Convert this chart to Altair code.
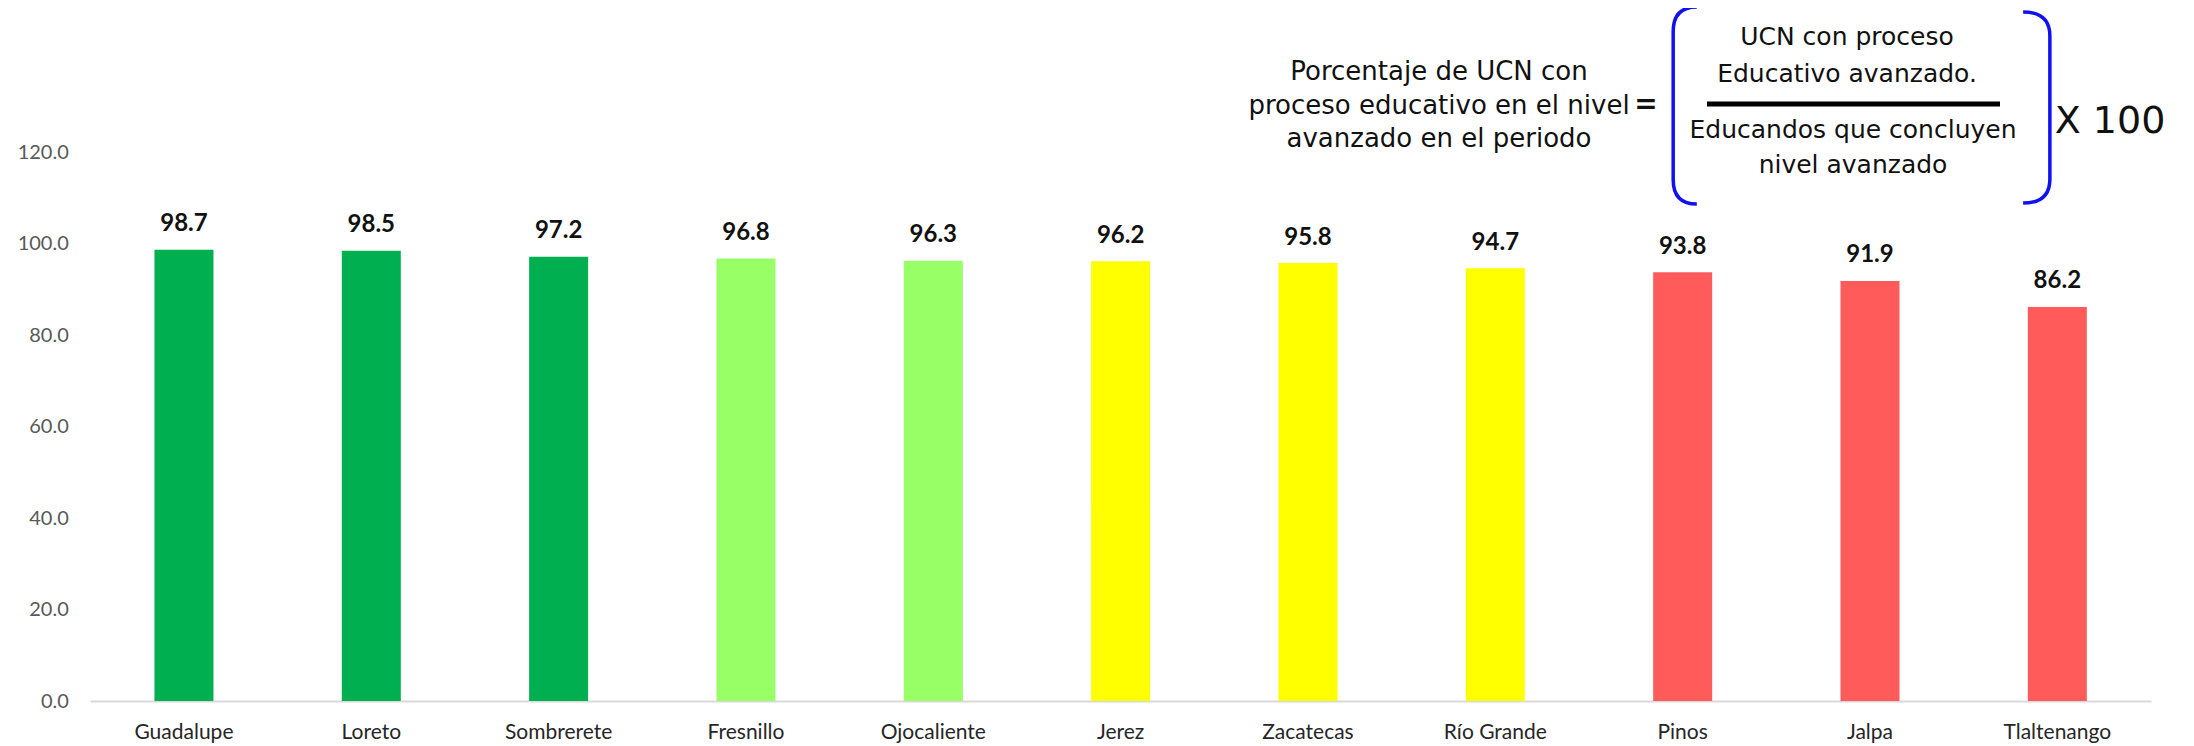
import altair as alt
import pandas as pd

categories = ["Guadalupe", "Loreto", "Sombrerete", "Fresnillo", "Ojocaliente", "Jerez",
              "Zacatecas", "Río Grande", "Pinos", "Jalpa", "Tlaltenango"]
values = [98.7, 98.5, 97.2, 96.8, 96.3, 96.2, 95.8, 94.7, 93.8, 91.9, 86.2]
bar_colors = ["#00B050", "#00B050", "#00B050", "#99FF66", "#99FF66", "#FFFF00",
              "#FFFF00", "#FFFF00", "#FF5B5B", "#FF5B5B", "#FF5B5B"]

formula_left = ["Porcentaje de UCN con", "proceso educativo en el nivel", "avanzado en el periodo"]
formula_equals = "="
formula_numerator = ["UCN con proceso", "Educativo avanzado."]
formula_denominator = ["Educandos que concluyen", "nivel avanzado"]
formula_multiplier = "X 100"

df = pd.DataFrame({"municipio": categories, "valor": values})
one = pd.DataFrame({"k": [0]})

W, H = 2060.7, 548.5
OX, OY = 90.3, 152.5  # plot origin on page


def px(x):
    return x - OX


def py(y):
    return y - OY


xenc = alt.X("municipio:N", sort=categories, title=None,
             scale=alt.Scale(paddingInner=0.685, paddingOuter=0.3425),
             axis=alt.Axis(labelAngle=0, labelFont="Lato", labelFontSize=21,
                           labelColor="#262626", labelPadding=20, ticks=False,
                           domainColor="#D9D9D9", domainWidth=2))
yenc = alt.Y("valor:Q", title=None,
             scale=alt.Scale(domain=[0, 120], nice=False),
             axis=alt.Axis(values=[0, 20, 40, 60, 80, 100, 120], format=".1f",
                           labelFont="Lato", labelFontSize=20, labelColor="#595959",
                           labelPadding=22, ticks=False, domain=False, grid=False))

bars = alt.Chart(df).mark_bar().encode(
    x=xenc, y=yenc,
    color=alt.Color("municipio:N", scale=alt.Scale(domain=categories, range=bar_colors),
                    legend=None),
)

labels = alt.Chart(df).mark_text(font="Lato", fontSize=24, fontWeight="bold",
                                 color="#111111", baseline="alphabetic", dy=-18.5).encode(
    x=alt.X("municipio:N", sort=categories), y="valor:Q",
    text=alt.Text("valor:Q", format=".1f"),
)

left_txt = alt.Chart(one).mark_text(text=formula_left, font="DejaVu Sans", fontSize=26,
                                    color="#111111", align="center", baseline="alphabetic",
                                    lineHeight=33.5).encode(
    x=alt.value(px(1439)), y=alt.value(py(80)))

eq_txt = alt.Chart(one).mark_text(text=formula_equals, font="DejaVu Sans", fontSize=28,
                                  fontWeight="bold", color="#111111", align="center",
                                  baseline="alphabetic").encode(
    x=alt.value(px(1646)), y=alt.value(py(113)))

num_txt = alt.Chart(one).mark_text(text=formula_numerator, font="DejaVu Sans", fontSize=25,
                                   color="#111111", align="center", baseline="alphabetic",
                                   lineHeight=37).encode(
    x=alt.value(px(1847)), y=alt.value(py(45)))

den_txt = alt.Chart(one).mark_text(text=formula_denominator, font="DejaVu Sans", fontSize=25,
                                   color="#111111", align="center", baseline="alphabetic",
                                   lineHeight=35).encode(
    x=alt.value(px(1853)), y=alt.value(py(138)))

mul_txt = alt.Chart(one).mark_text(text=formula_multiplier, font="DejaVu Sans", fontSize=38,
                                   color="#111111", align="center",
                                   baseline="alphabetic").encode(
    x=alt.value(px(2110)), y=alt.value(py(133)))

frac_line = alt.Chart(one).mark_rule(color="#000000", strokeWidth=5).encode(
    x=alt.value(px(1707)), x2=alt.value(px(2000)), y=alt.value(py(104)))

left_br = alt.Chart(one).mark_point(
    shape="M 0.12 -1 Q -0.12 -1 -0.12 -0.75 L -0.12 0.75 Q -0.12 1 0.12 1",
    size=197 * 197, filled=False, stroke="#1010F0", strokeWidth=3.5, opacity=1).encode(
    x=alt.value(px(1685)), y=alt.value(py(105.5)))

right_br = alt.Chart(one).mark_point(
    shape="M -0.14 -1 Q 0.14 -1 0.14 -0.75 L 0.14 0.75 Q 0.14 1 -0.14 1",
    size=191 * 191, filled=False, stroke="#1010F0", strokeWidth=3.5, opacity=1).encode(
    x=alt.value(px(2036.5)), y=alt.value(py(107.5)))

chart = alt.layer(bars, labels, left_txt, eq_txt, num_txt, den_txt, mul_txt, frac_line,
                  left_br, right_br).properties(
    width=W, height=H,
    autosize=alt.AutoSizeParams(type="none"),
    padding={"left": 82.3, "top": 144.5, "right": 35, "bottom": 45},
    background="white",
).configure_view(strokeWidth=0, stroke="transparent")

chart.save("out.html", embed_options={"renderer": "svg", "actions": False})
